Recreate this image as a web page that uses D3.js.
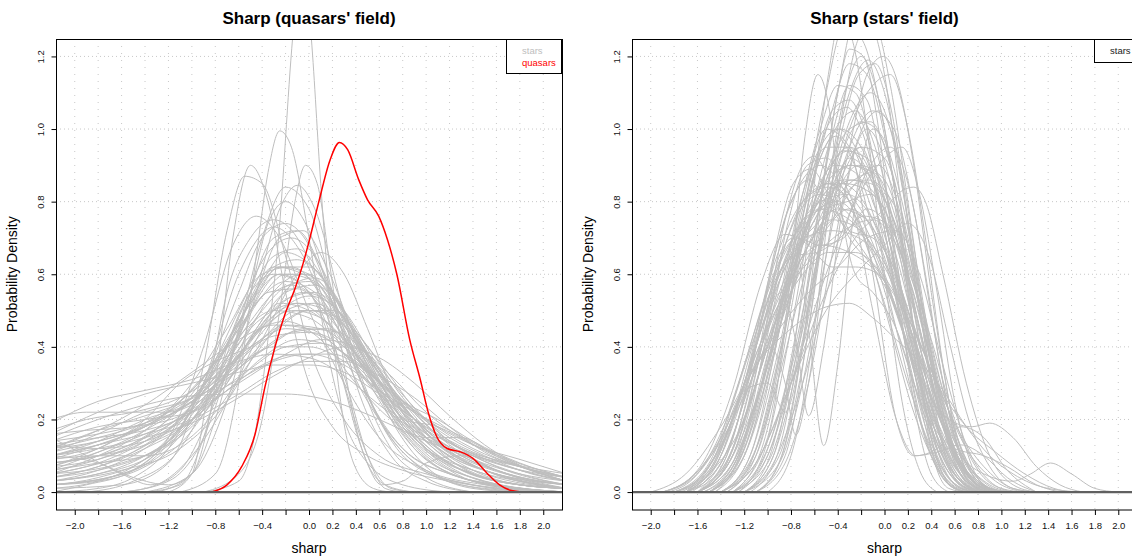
<!DOCTYPE html>
<html><head><meta charset="utf-8">
<script src="https://cdn.jsdelivr.net/npm/d3@7"></script>
<style>
body{margin:0;background:#fff;}
text{font-family:"Liberation Sans",Arial,Helvetica,sans-serif;}
</style></head>
<body><svg id="chart" width="1132" height="560"></svg>
<script>
// ---------- data ----------
const xTicks = [-2.0,-1.8,-1.6,-1.4,-1.2,-1.0,-0.8,-0.6,-0.4,-0.2,0.0,0.2,0.4,0.6,0.8,1.0,1.2,1.4,1.6,1.8,2.0];
const xTickLabels = ["−2.0","","−1.6","","−1.2","","−0.8","","−0.4","","0.0","0.2","0.4","0.6","0.8","1.0","1.2","1.4","1.6","1.8","2.0"];
const yTicks = [0.0,0.2,0.4,0.6,0.8,1.0,1.2];
const yTickLabels = ["0.0","0.2","0.4","0.6","0.8","1.0","1.2"];
const titles = ["Sharp (quasars' field)","Sharp (stars' field)"];
const xTitle = "sharp";
const yTitle = "Probability Density";

// quasar density in the quasars' field ([sharp, density])
const quasarCurve = [[-0.83,0],[-0.7,0.02],[-0.575,0.07],[-0.46,0.16],[-0.376,0.29],[-0.29,0.40],[-0.205,0.49],[-0.12,0.56],[-0.05,0.63],[0.0,0.69],[0.084,0.80],[0.18,0.915],[0.26,0.963],[0.33,0.943],[0.425,0.86],[0.50,0.805],[0.595,0.76],[0.67,0.695],[0.75,0.60],[0.86,0.42],[0.95,0.31],[1.02,0.217],[1.09,0.153],[1.18,0.12],[1.29,0.111],[1.40,0.093],[1.52,0.052],[1.63,0.019],[1.72,0.005],[1.83,0]];

// star densities in the quasars' field ([sharp, density] per curve)
const starsQF = [
[[-2.2,0.19],[-1.8,0.25],[-1.4,0.28],[-1.0,0.31],[-0.6,0.36],[-0.3,0.38],[0,0.37],[0.3,0.32],[0.6,0.24],[1.0,0.15],[1.4,0.09],[1.8,0.05],[2.2,0.03]],
[[-2.2,0.15],[-1.8,0.2],[-1.4,0.24],[-1.0,0.265],[-0.6,0.27],[-0.2,0.27],[0.2,0.25],[0.6,0.2],[1.0,0.14],[1.4,0.1],[1.8,0.07],[2.2,0.04]],
[[-2.2,0.12],[-1.8,0.17],[-1.4,0.24],[-1.0,0.33],[-0.6,0.42],[-0.3,0.46],[0,0.45],[0.3,0.38],[0.6,0.27],[1.0,0.15],[1.4,0.08],[1.8,0.04],[2.2,0.02]],
[[-2.2,0.1],[-1.8,0.13],[-1.4,0.18],[-1.0,0.28],[-0.6,0.45],[-0.35,0.55],[-0.1,0.56],[0.2,0.47],[0.5,0.33],[0.8,0.2],[1.2,0.1],[1.6,0.05],[2.2,0.01]],
[[-2.2,0.06],[-1.8,0.09],[-1.4,0.15],[-1.0,0.27],[-0.6,0.47],[-0.3,0.62],[-0.1,0.64],[0.2,0.55],[0.5,0.37],[0.8,0.2],[1.2,0.08],[1.6,0.03],[2.2,0.01]],
[[-2.2,0.04],[-1.8,0.07],[-1.4,0.13],[-1.0,0.24],[-0.7,0.4],[-0.4,0.58],[-0.2,0.66],[0,0.63],[0.3,0.5],[0.6,0.32],[1.0,0.15],[1.4,0.06],[1.8,0.02],[2.2,0.01]],
[[-2.2,0.13],[-1.8,0.15],[-1.4,0.17],[-1.0,0.22],[-0.6,0.34],[-0.3,0.44],[0,0.5],[0.3,0.47],[0.6,0.36],[0.9,0.23],[1.2,0.14],[1.6,0.08],[2.2,0.04]],
[[-2.2,0.09],[-1.8,0.12],[-1.4,0.2],[-1.1,0.3],[-0.8,0.36],[-0.5,0.4],[-0.2,0.46],[0.1,0.45],[0.4,0.38],[0.7,0.27],[1.0,0.17],[1.4,0.09],[1.8,0.04],[2.2,0.02]],
[[-2.2,0.03],[-1.8,0.05],[-1.4,0.1],[-1.0,0.2],[-0.7,0.35],[-0.45,0.55],[-0.25,0.7],[-0.05,0.72],[0.15,0.62],[0.4,0.42],[0.7,0.22],[1.0,0.1],[1.4,0.04],[1.8,0.01],[2.2,0]],
[[-2.2,0.02],[-1.8,0.03],[-1.4,0.07],[-1.0,0.17],[-0.7,0.34],[-0.5,0.55],[-0.35,0.74],[-0.2,0.8],[0,0.72],[0.2,0.52],[0.45,0.3],[0.8,0.12],[1.2,0.05],[1.6,0.02],[2.2,0]],
[[-1.3,0],[-1.0,0.05],[-0.8,0.3],[-0.65,0.7],[-0.5,0.9],[-0.35,0.8],[-0.2,0.55],[0,0.3],[0.2,0.18],[0.5,0.1],[0.8,0.06],[1.2,0.03],[1.6,0.01],[2.0,0]],
[[-2.2,0.01],[-1.6,0.02],[-1.2,0.08],[-0.9,0.35],[-0.7,0.72],[-0.55,0.87],[-0.4,0.85],[-0.2,0.65],[0.0,0.4],[0.3,0.2],[0.6,0.1],[1.0,0.05],[1.4,0.02],[2.2,0]],
[[-1.1,0],[-0.8,0.05],[-0.6,0.3],[-0.45,0.65],[-0.35,0.88],[-0.25,0.995],[-0.15,0.95],[0,0.7],[0.15,0.4],[0.3,0.2],[0.5,0.08],[0.8,0.02],[1.2,0]],
[[-0.9,0],[-0.6,0.05],[-0.4,0.2],[-0.25,0.5],[-0.12,0.8],[-0.03,0.9],[0.07,0.85],[0.18,0.62],[0.3,0.35],[0.45,0.12],[0.65,0.02],[0.9,0]],
[[-0.9,0],[-0.6,0.03],[-0.45,0.18],[-0.34,0.45],[-0.26,0.7],[-0.14,1.25],[-0.06,1.5],[0.02,1.25],[0.1,0.85],[0.17,0.55],[0.27,0.25],[0.38,0.08],[0.55,0.01],[0.7,0]],
[[-1.4,0],[-1.1,0.02],[-0.9,0.15],[-0.7,0.4],[-0.5,0.55],[-0.3,0.6],[-0.1,0.58],[0.1,0.5],[0.3,0.32],[0.5,0.1],[0.65,0.01],[0.8,0]],
[[-1.2,0],[-1.0,0.05],[-0.85,0.3],[-0.7,0.55],[-0.5,0.7],[-0.3,0.75],[-0.1,0.7],[0.1,0.55],[0.3,0.3],[0.5,0.1],[0.7,0.01],[0.9,0]],
[[-2.2,0.08],[-1.6,0.12],[-1.2,0.2],[-0.8,0.33],[-0.4,0.48],[-0.1,0.52],[0.2,0.45],[0.5,0.3],[0.8,0.2],[1.1,0.18],[1.4,0.13],[1.8,0.07],[2.2,0.03]],
[[-2.2,0.1],[-1.8,0.14],[-1.4,0.2],[-1.0,0.25],[-0.6,0.38],[-0.3,0.5],[-0.05,0.55],[0.25,0.5],[0.55,0.35],[0.9,0.2],[1.3,0.12],[1.7,0.08],[2.2,0.05]],
[[-2.2,0.05],[-1.8,0.1],[-1.4,0.17],[-1.0,0.3],[-0.7,0.45],[-0.4,0.6],[-0.15,0.62],[0.1,0.55],[0.4,0.38],[0.7,0.22],[1.0,0.12],[1.4,0.06],[1.8,0.03],[2.2,0.01]],
[[-2.2,0.02],[-1.6,0.05],[-1.2,0.15],[-0.9,0.4],[-0.65,0.68],[-0.45,0.76],[-0.25,0.7],[0,0.5],[0.3,0.3],[0.6,0.15],[1.0,0.06],[1.5,0.02],[2.2,0]],
[[-1.6,0],[-1.2,0.03],[-0.9,0.15],[-0.6,0.45],[-0.4,0.7],[-0.2,0.84],[0,0.78],[0.2,0.55],[0.4,0.3],[0.7,0.1],[1.0,0.03],[1.4,0]],
[[-1.4,0],[-1.0,0.05],[-0.7,0.25],[-0.45,0.55],[-0.25,0.78],[-0.1,0.845],[0.05,0.78],[0.25,0.55],[0.45,0.3],[0.7,0.12],[1.0,0.04],[1.4,0]],
[[-2.2,0.02],[-1.7,0.04],[-1.3,0.1],[-0.9,0.3],[-0.6,0.6],[-0.3,0.73],[-0.05,0.65],[0.2,0.45],[0.5,0.25],[0.8,0.12],[1.2,0.05],[1.6,0.02],[2.2,0]],
[[-2.2,0.03],[-1.6,0.06],[-1.1,0.12],[-0.7,0.25],[-0.4,0.42],[-0.1,0.6],[0.1,0.66],[0.3,0.6],[0.5,0.45],[0.75,0.25],[1.0,0.12],[1.4,0.05],[1.8,0.02],[2.2,0.01]],
[[-2.2,0.16],[-1.8,0.22],[-1.4,0.27],[-1.0,0.3],[-0.6,0.33],[-0.3,0.35],[0,0.35],[0.3,0.33],[0.6,0.27],[1.0,0.18],[1.4,0.11],[1.8,0.07],[2.2,0.04]],
[[-2.2,0.07],[-1.8,0.11],[-1.4,0.16],[-1.0,0.22],[-0.6,0.3],[-0.2,0.38],[0.1,0.42],[0.4,0.4],[0.7,0.32],[1.0,0.22],[1.3,0.15],[1.7,0.09],[2.2,0.04]],
[[-2.2,0.0],[-1.9,0.02],[-1.5,0.06],[-1.1,0.18],[-0.8,0.35],[-0.5,0.52],[-0.25,0.6],[0,0.6],[0.25,0.5],[0.5,0.35],[0.8,0.18],[1.2,0.07],[1.6,0.02],[2.2,0]],
[[-2.2,0.11],[-1.8,0.16],[-1.4,0.22],[-1.0,0.26],[-0.7,0.33],[-0.4,0.42],[-0.1,0.5],[0.2,0.5],[0.5,0.4],[0.8,0.26],[1.2,0.13],[1.6,0.06],[2.2,0.02]],
[[-2.2,0.14],[-1.8,0.18],[-1.4,0.2],[-1.0,0.22],[-0.7,0.28],[-0.4,0.37],[-0.1,0.42],[0.2,0.4],[0.5,0.33],[0.8,0.25],[1.1,0.2],[1.4,0.14],[1.8,0.08],[2.2,0.04]],
[[-2.2,0.04],[-1.8,0.07],[-1.4,0.12],[-1.0,0.2],[-0.7,0.32],[-0.45,0.45],[-0.2,0.55],[0.05,0.57],[0.3,0.5],[0.6,0.34],[0.9,0.2],[1.3,0.09],[1.7,0.04],[2.2,0.01]],
[[-2.2,0.08],[-1.8,0.1],[-1.4,0.13],[-1.0,0.2],[-0.7,0.3],[-0.45,0.45],[-0.25,0.52],[0,0.5],[0.3,0.42],[0.6,0.3],[0.9,0.18],[1.2,0.1],[1.6,0.05],[2.2,0.02]],
[[-1.6,0],[-1.3,0.02],[-1.0,0.1],[-0.7,0.25],[-0.4,0.45],[-0.15,0.57],[0.05,0.59],[0.25,0.53],[0.45,0.38],[0.7,0.2],[1.0,0.07],[1.4,0.01],[1.8,0]],
[[-2.2,0.12],[-1.8,0.14],[-1.5,0.17],[-1.2,0.22],[-0.9,0.32],[-0.6,0.43],[-0.3,0.5],[0,0.48],[0.3,0.4],[0.6,0.3],[0.9,0.22],[1.2,0.15],[1.5,0.1],[1.9,0.05],[2.2,0.03]],
[[-2.2,0.06],[-1.8,0.08],[-1.4,0.1],[-1.1,0.16],[-0.8,0.28],[-0.5,0.42],[-0.25,0.5],[0,0.54],[0.25,0.5],[0.5,0.38],[0.8,0.22],[1.1,0.11],[1.5,0.05],[2.2,0.01]],
[[-2.2,0.17],[-1.9,0.2],[-1.5,0.22],[-1.1,0.26],[-0.8,0.32],[-0.5,0.4],[-0.2,0.45],[0.1,0.43],[0.4,0.35],[0.7,0.25],[1.0,0.16],[1.4,0.1],[1.8,0.06],[2.2,0.03]],
[[-2.2,0.01],[-1.8,0.03],[-1.5,0.07],[-1.2,0.15],[-0.9,0.3],[-0.6,0.5],[-0.35,0.66],[-0.15,0.7],[0.05,0.65],[0.3,0.48],[0.6,0.27],[0.9,0.12],[1.3,0.04],[1.8,0.01],[2.2,0]],
[[-2.2,0.05],[-1.6,0.08],[-1.2,0.14],[-0.8,0.3],[-0.5,0.43],[-0.2,0.47],[0.1,0.42],[0.4,0.3],[0.7,0.2],[1.0,0.15],[1.3,0.15],[1.6,0.1],[1.9,0.06],[2.2,0.03]],
[[-2.2,0.2],[-1.9,0.22],[-1.5,0.22],[-1.2,0.22],[-0.9,0.27],[-0.6,0.35],[-0.3,0.4],[0,0.4],[0.3,0.36],[0.6,0.28],[0.9,0.2],[1.3,0.12],[1.7,0.07],[2.2,0.03]],
[[-2.2,0.09],[-1.8,0.1],[-1.4,0.1],[-1.1,0.13],[-0.8,0.22],[-0.5,0.36],[-0.25,0.46],[0,0.5],[0.25,0.47],[0.5,0.38],[0.8,0.24],[1.1,0.13],[1.5,0.06],[2.2,0.01]],
[[-2.2,0.1],[-1.8,0.08],[-1.5,0.04],[-1.2,0.02],[-1.0,0.05],[-0.8,0.2],[-0.55,0.5],[-0.3,0.7],[-0.1,0.72],[0.1,0.62],[0.35,0.4],[0.6,0.2],[0.9,0.08],[1.3,0.02],[1.8,0]],
[[-2.2,0.15],[-1.9,0.1],[-1.6,0.05],[-1.35,0.02],[-1.1,0.06],[-0.8,0.25],[-0.5,0.5],[-0.25,0.62],[0,0.6],[0.25,0.48],[0.55,0.28],[0.9,0.12],[1.3,0.04],[1.8,0.01],[2.2,0]],
[[-2.2,0.02],[-1.6,0.05],[-1.2,0.12],[-0.8,0.3],[-0.5,0.5],[-0.25,0.6],[0,0.55],[0.25,0.35],[0.45,0.12],[0.62,0.02],[0.8,0.03],[1.0,0.08],[1.3,0.1],[1.6,0.06],[2.0,0.02],[2.2,0.01]],
[[-2.2,0.13],[-1.8,0.12],[-1.4,0.14],[-1.0,0.2],[-0.7,0.28],[-0.4,0.35],[-0.1,0.38],[0.2,0.38],[0.5,0.33],[0.8,0.25],[1.1,0.18],[1.4,0.13],[1.8,0.09],[2.2,0.05]],
[[-2.2,0.07],[-1.8,0.12],[-1.4,0.19],[-1.0,0.28],[-0.7,0.4],[-0.45,0.52],[-0.2,0.58],[0.05,0.55],[0.3,0.44],[0.6,0.28],[0.9,0.15],[1.3,0.06],[1.8,0.02],[2.2,0.01]],
[[-2.2,0.0],[-1.8,0.01],[-1.5,0.04],[-1.2,0.12],[-0.9,0.3],[-0.6,0.55],[-0.4,0.7],[-0.2,0.74],[0,0.68],[0.2,0.52],[0.45,0.3],[0.75,0.12],[1.1,0.04],[1.5,0.01],[2.0,0]],
[[-2.2,0.1],[-1.8,0.13],[-1.4,0.16],[-1.0,0.2],[-0.6,0.27],[-0.3,0.33],[0,0.36],[0.3,0.36],[0.6,0.32],[0.9,0.26],[1.2,0.18],[1.5,0.11],[1.9,0.06],[2.2,0.03]],
[[-1.9,0],[-1.5,0.03],[-1.1,0.12],[-0.8,0.3],[-0.55,0.5],[-0.3,0.62],[-0.05,0.6],[0.2,0.48],[0.45,0.3],[0.7,0.15],[1.0,0.06],[1.4,0.02],[1.9,0]],
[[-2.2,0.12],[-1.8,0.15],[-1.4,0.19],[-1.0,0.26],[-0.6,0.37],[-0.3,0.43],[0,0.44],[0.3,0.4],[0.6,0.3],[0.9,0.2],[1.3,0.1],[1.7,0.05],[2.2,0.02]],
[[-2.2,0.05],[-1.8,0.08],[-1.4,0.14],[-1.0,0.24],[-0.7,0.36],[-0.4,0.5],[-0.15,0.57],[0.1,0.52],[0.35,0.4],[0.65,0.25],[1.0,0.12],[1.4,0.05],[1.8,0.02],[2.2,0.01]],
[[-2.2,0.08],[-1.8,0.1],[-1.4,0.15],[-1.0,0.23],[-0.65,0.35],[-0.35,0.47],[-0.1,0.52],[0.15,0.5],[0.45,0.4],[0.75,0.27],[1.1,0.14],[1.5,0.06],[2.2,0.01]],
[[-2.2,0.03],[-1.8,0.06],[-1.4,0.12],[-1.05,0.22],[-0.75,0.38],[-0.5,0.52],[-0.25,0.62],[0,0.62],[0.25,0.52],[0.5,0.36],[0.8,0.18],[1.2,0.06],[1.7,0.01],[2.2,0]],
[[-2.2,0.11],[-1.8,0.14],[-1.4,0.18],[-1.0,0.25],[-0.65,0.33],[-0.35,0.4],[-0.05,0.45],[0.25,0.44],[0.55,0.36],[0.85,0.25],[1.2,0.14],[1.6,0.07],[2.2,0.02]],
[[-2.2,0.06],[-1.8,0.11],[-1.4,0.17],[-1.0,0.26],[-0.7,0.38],[-0.4,0.54],[-0.2,0.6],[0.05,0.58],[0.3,0.46],[0.6,0.3],[0.9,0.17],[1.3,0.07],[1.8,0.02],[2.2,0.01]],
[[-2.2,0.14],[-1.8,0.16],[-1.4,0.19],[-1.0,0.24],[-0.6,0.31],[-0.3,0.36],[0,0.38],[0.3,0.35],[0.6,0.28],[0.9,0.22],[1.2,0.17],[1.5,0.12],[1.9,0.06],[2.2,0.04]],
[[-2.2,0.02],[-1.8,0.04],[-1.4,0.09],[-1.05,0.2],[-0.75,0.37],[-0.5,0.55],[-0.3,0.65],[-0.1,0.67],[0.1,0.6],[0.35,0.43],[0.65,0.24],[0.95,0.11],[1.4,0.03],[2.2,0]],
[[-2.2,0.09],[-1.8,0.13],[-1.4,0.18],[-1.0,0.25],[-0.7,0.34],[-0.4,0.45],[-0.15,0.5],[0.1,0.48],[0.4,0.38],[0.7,0.26],[1.0,0.16],[1.3,0.1],[1.7,0.05],[2.2,0.02]],
[[-2.2,0.04],[-1.8,0.06],[-1.4,0.1],[-1.0,0.18],[-0.7,0.3],[-0.45,0.42],[-0.2,0.5],[0.05,0.52],[0.3,0.46],[0.55,0.35],[0.85,0.22],[1.15,0.12],[1.5,0.06],[1.9,0.03],[2.2,0.01]],
[[-2.2,0.16],[-1.9,0.17],[-1.5,0.18],[-1.1,0.21],[-0.8,0.27],[-0.5,0.34],[-0.2,0.4],[0.1,0.41],[0.4,0.36],[0.7,0.28],[1.0,0.2],[1.4,0.12],[1.8,0.07],[2.2,0.04]],
[[-2.2,0.07],[-1.8,0.09],[-1.4,0.14],[-1.0,0.22],[-0.7,0.33],[-0.45,0.44],[-0.2,0.53],[0.05,0.55],[0.3,0.48],[0.55,0.36],[0.85,0.21],[1.2,0.09],[1.6,0.03],[2.2,0.01]],
[[-2.2,0.1],[-1.8,0.12],[-1.4,0.15],[-1.0,0.19],[-0.6,0.26],[-0.3,0.32],[0,0.37],[0.3,0.4],[0.6,0.37],[0.9,0.3],[1.2,0.21],[1.5,0.13],[1.9,0.06],[2.2,0.03]],
[[-2.2,0.03],[-1.8,0.05],[-1.4,0.09],[-1.05,0.17],[-0.75,0.3],[-0.5,0.45],[-0.28,0.56],[-0.05,0.6],[0.2,0.54],[0.45,0.4],[0.75,0.22],[1.05,0.1],[1.5,0.03],[2.2,0]],
[[-2.2,0.12],[-1.8,0.17],[-1.4,0.21],[-1.05,0.25],[-0.75,0.3],[-0.45,0.38],[-0.15,0.44],[0.15,0.45],[0.45,0.38],[0.75,0.27],[1.05,0.17],[1.4,0.1],[1.8,0.05],[2.2,0.02]],
[[-2.2,0.05],[-1.9,0.07],[-1.5,0.11],[-1.1,0.2],[-0.8,0.32],[-0.5,0.47],[-0.25,0.56],[0,0.58],[0.25,0.5],[0.5,0.36],[0.8,0.2],[1.1,0.1],[1.5,0.04],[2.2,0.01]]
];

// star densities in the stars' field ([sharp, density] per curve)
const starsSF = [
[[-1.3,0],[-1.0,0.15],[-0.8,0.6],[-0.68,0.98],[-0.57,1.15],[-0.47,1.05],[-0.38,0.8],[-0.25,0.6],[-0.1,0.55],[0.1,0.45],[0.3,0.25],[0.5,0.08],[0.7,0.01],[0.9,0]],
[[-1.4,0],[-1.1,0.1],[-0.9,0.35],[-0.7,0.75],[-0.5,1.1],[-0.35,1.28],[-0.2,1.25],[0,1.0],[0.2,0.6],[0.4,0.25],[0.6,0.06],[0.8,0]],
[[-1.3,0],[-1.0,0.08],[-0.8,0.3],[-0.6,0.7],[-0.4,1.1],[-0.25,1.3],[-0.1,1.3],[0.05,1.12],[0.2,0.8],[0.4,0.35],[0.6,0.08],[0.8,0]],
[[-1.2,0],[-0.9,0.08],[-0.7,0.3],[-0.5,0.65],[-0.3,0.95],[-0.15,1.15],[-0.01,1.2],[0.12,1.12],[0.25,0.9],[0.4,0.55],[0.6,0.18],[0.8,0.03],[1.0,0]],
[[-1.5,0],[-1.2,0.1],[-1.0,0.3],[-0.8,0.6],[-0.6,0.9],[-0.45,1.03],[-0.32,1.06],[-0.2,1.0],[0,0.75],[0.2,0.45],[0.4,0.2],[0.6,0.05],[0.8,0]],
[[-1.2,0],[-0.9,0.1],[-0.65,0.5],[-0.45,0.9],[-0.3,1.1],[-0.14,1.19],[0,1.1],[0.15,0.85],[0.3,0.5],[0.5,0.18],[0.7,0.03],[0.9,0]],
[[-1.4,0],[-1.1,0.08],[-0.8,0.3],[-0.5,0.55],[-0.25,0.7],[0,0.78],[0.15,0.83],[0.25,0.84],[0.35,0.8],[0.5,0.6],[0.7,0.3],[0.9,0.1],[1.1,0.02],[1.3,0]],
[[-1.6,0],[-1.35,0.1],[-1.15,0.3],[-0.98,0.4],[-0.85,0.3],[-0.76,0.157],[-0.65,0.3],[-0.5,0.65],[-0.35,0.9],[-0.2,0.95],[-0.05,0.8],[0.15,0.45],[0.35,0.15],[0.55,0.02],[0.7,0]],
[[-1.6,0],[-1.35,0.08],[-1.1,0.35],[-0.9,0.65],[-0.78,0.7],[-0.65,0.45],[-0.52,0.128],[-0.4,0.35],[-0.25,0.8],[-0.1,1.0],[0.05,0.9],[0.2,0.55],[0.4,0.15],[0.6,0.01],[0.75,0]],
[[-1.7,0],[-1.45,0.1],[-1.2,0.28],[-1.0,0.3],[-0.85,0.22],[-0.7,0.4],[-0.5,0.75],[-0.3,0.92],[-0.1,0.85],[0.1,0.55],[0.3,0.2],[0.5,0.04],[0.7,0]],
[[-1.6,0],[-1.3,0.15],[-1.05,0.45],[-0.88,0.55],[-0.75,0.4],[-0.65,0.21],[-0.52,0.4],[-0.35,0.8],[-0.15,1.0],[0.05,0.85],[0.25,0.45],[0.45,0.12],[0.65,0.01],[0.8,0]],
[[-1.6,0],[-1.3,0.1],[-1.05,0.4],[-0.85,0.75],[-0.7,0.9],[-0.6,0.925],[-0.5,0.88],[-0.35,0.75],[-0.15,0.65],[0.05,0.55],[0.25,0.35],[0.45,0.12],[0.65,0.02],[0.85,0]],
[[-1.7,0],[-1.4,0.08],[-1.15,0.32],[-0.95,0.65],[-0.78,0.85],[-0.63,0.89],[-0.48,0.82],[-0.3,0.7],[-0.1,0.62],[0.1,0.5],[0.3,0.28],[0.5,0.1],[0.7,0.02],[0.9,0]],
[[-1.8,0],[-1.5,0.07],[-1.2,0.3],[-0.98,0.6],[-0.8,0.8],[-0.65,0.86],[-0.5,0.8],[-0.3,0.72],[-0.1,0.7],[0.1,0.6],[0.3,0.38],[0.5,0.15],[0.7,0.03],[0.9,0]],
[[-2.0,0],[-1.7,0.05],[-1.4,0.18],[-1.1,0.35],[-0.8,0.45],[-0.5,0.51],[-0.3,0.52],[-0.1,0.48],[0.1,0.42],[0.3,0.36],[0.5,0.28],[0.7,0.18],[0.9,0.1],[1.1,0.05],[1.4,0.01],[1.7,0]],
[[-1.9,0],[-1.6,0.06],[-1.3,0.28],[-1.05,0.58],[-0.85,0.71],[-0.65,0.68],[-0.45,0.62],[-0.25,0.62],[-0.05,0.6],[0.15,0.45],[0.35,0.22],[0.55,0.07],[0.75,0.01],[0.95,0]],
[[-1.8,0],[-1.5,0.06],[-1.25,0.25],[-1.0,0.5],[-0.8,0.65],[-0.55,0.75],[-0.3,0.85],[-0.1,0.88],[0.1,0.75],[0.3,0.45],[0.5,0.18],[0.7,0.04],[0.9,0]],
[[-1.7,0],[-1.4,0.08],[-1.15,0.3],[-0.9,0.55],[-0.65,0.72],[-0.4,0.85],[-0.2,0.95],[0,0.92],[0.2,0.7],[0.4,0.38],[0.6,0.12],[0.8,0.02],[1.0,0]],
[[-1.6,0],[-1.3,0.1],[-1.05,0.35],[-0.8,0.6],[-0.55,0.78],[-0.3,0.9],[-0.1,0.88],[0.1,0.7],[0.3,0.45],[0.5,0.2],[0.7,0.06],[0.9,0.01],[1.1,0]],
[[-1.8,0],[-1.5,0.05],[-1.2,0.2],[-0.95,0.45],[-0.7,0.65],[-0.45,0.75],[-0.2,0.72],[0.05,0.55],[0.3,0.32],[0.55,0.2],[0.75,0.18],[0.9,0.19],[1.1,0.15],[1.3,0.07],[1.5,0.02],[1.7,0]],
[[-1.7,0],[-1.4,0.06],[-1.15,0.25],[-0.9,0.5],[-0.65,0.68],[-0.4,0.78],[-0.15,0.75],[0.1,0.55],[0.35,0.3],[0.6,0.12],[0.85,0.05],[1.1,0.03],[1.25,0.05],[1.42,0.08],[1.6,0.05],[1.8,0.01],[2.0,0]],
[[-1.5,0],[-1.2,0.1],[-0.95,0.4],[-0.7,0.8],[-0.5,1.0],[-0.3,0.95],[-0.1,0.6],[0.1,0.2],[0.25,0.1],[0.45,0.11],[0.65,0.13],[0.85,0.1],[1.05,0.04],[1.3,0]],
[[-1.4,0],[-1.15,0.1],[-0.9,0.4],[-0.7,0.7],[-0.5,0.85],[-0.3,0.8],[-0.1,0.5],[0.1,0.2],[0.27,0.1],[0.45,0.12],[0.65,0.18],[0.85,0.15],[1.05,0.06],[1.3,0]],
[[-1.6,0],[-1.3,0.08],[-1.0,0.35],[-0.75,0.65],[-0.5,0.88],[-0.3,1.0],[-0.12,1.02],[0.05,0.9],[0.25,0.6],[0.45,0.28],[0.65,0.08],[0.85,0]],
[[-1.5,0],[-1.25,0.1],[-1.0,0.38],[-0.75,0.7],[-0.55,0.92],[-0.38,1.0],[-0.2,0.95],[0,0.75],[0.2,0.45],[0.4,0.18],[0.6,0.04],[0.8,0]],
[[-1.7,0],[-1.4,0.1],[-1.15,0.32],[-0.9,0.52],[-0.65,0.68],[-0.4,0.8],[-0.15,0.86],[0.1,0.78],[0.3,0.55],[0.5,0.28],[0.7,0.09],[0.9,0.01],[1.1,0]],
[[-1.6,0],[-1.35,0.07],[-1.1,0.25],[-0.85,0.5],[-0.6,0.72],[-0.35,0.85],[-0.1,0.82],[0.1,0.65],[0.3,0.4],[0.5,0.18],[0.7,0.05],[0.9,0]],
[[-1.1,0],[-0.85,0.08],[-0.65,0.3],[-0.45,0.65],[-0.25,0.95],[-0.05,1.05],[0.12,0.92],[0.28,0.62],[0.45,0.3],[0.6,0.1],[0.75,0.02],[0.9,0]],
[[-1.2,0],[-0.95,0.08],[-0.7,0.3],[-0.45,0.6],[-0.2,0.85],[0.05,0.95],[0.2,0.85],[0.35,0.6],[0.5,0.3],[0.65,0.1],[0.8,0.02],[0.95,0]],
[[-1.8,0],[-1.5,0.08],[-1.25,0.3],[-1.0,0.55],[-0.78,0.7],[-0.55,0.78],[-0.3,0.75],[-0.05,0.62],[0.2,0.4],[0.45,0.18],[0.7,0.05],[0.9,0]],
[[-1.5,0],[-1.2,0.12],[-0.95,0.45],[-0.72,0.8],[-0.55,0.95],[-0.4,1.0],[-0.25,0.95],[-0.05,0.75],[0.15,0.45],[0.35,0.18],[0.55,0.04],[0.75,0]],
[[-1.9,0],[-1.6,0.05],[-1.35,0.18],[-1.1,0.38],[-0.85,0.55],[-0.6,0.65],[-0.35,0.72],[-0.1,0.75],[0.15,0.65],[0.4,0.42],[0.6,0.2],[0.8,0.06],[1.0,0.01],[1.2,0]],
[[-1.6,0],[-1.3,0.12],[-1.05,0.42],[-0.85,0.62],[-0.65,0.7],[-0.45,0.75],[-0.25,0.85],[-0.05,0.9],[0.15,0.75],[0.35,0.42],[0.55,0.14],[0.75,0.02],[0.9,0]],
[[-1.3,0],[-1.0,0.1],[-0.75,0.35],[-0.5,0.6],[-0.25,0.8],[0,0.92],[0.15,0.95],[0.3,0.82],[0.45,0.55],[0.6,0.25],[0.75,0.07],[0.9,0.01],[1.05,0]],
[[-1.4,0],[-1.15,0.1],[-0.9,0.45],[-0.7,0.78],[-0.5,0.95],[-0.3,0.95],[-0.1,0.8],[0.1,0.6],[0.3,0.35],[0.5,0.14],[0.7,0.03],[0.9,0]],
[[-1.7,0],[-1.45,0.1],[-1.2,0.35],[-0.95,0.6],[-0.75,0.7],[-0.55,0.68],[-0.35,0.7],[-0.15,0.78],[0.05,0.72],[0.25,0.5],[0.45,0.25],[0.65,0.08],[0.85,0.01],[1.0,0]],
[[-1.6,0],[-1.3,0.08],[-1.05,0.3],[-0.8,0.55],[-0.55,0.7],[-0.3,0.78],[-0.05,0.7],[0.2,0.5],[0.45,0.3],[0.7,0.18],[0.95,0.11],[1.2,0.05],[1.45,0.01],[1.6,0]],
[[-1.5,0],[-1.25,0.1],[-1.0,0.35],[-0.8,0.62],[-0.6,0.82],[-0.42,0.9],[-0.25,0.88],[-0.05,0.72],[0.15,0.5],[0.35,0.28],[0.6,0.1],[0.85,0.02],[1.0,0]],
[[-1.2,0],[-0.95,0.1],[-0.75,0.45],[-0.6,0.85],[-0.48,1.15],[-0.38,1.3],[-0.28,1.25],[-0.15,1.0],[0.0,0.6],[0.15,0.25],[0.3,0.06],[0.45,0]],
[[-1.3,0],[-1.0,0.12],[-0.75,0.4],[-0.5,0.75],[-0.3,1.0],[-0.1,1.12],[0.05,1.15],[0.2,1.0],[0.35,0.7],[0.5,0.35],[0.65,0.1],[0.8,0.02],[0.95,0]],
[[-1.8,0],[-1.55,0.05],[-1.3,0.2],[-1.05,0.42],[-0.8,0.6],[-0.55,0.68],[-0.3,0.66],[-0.05,0.6],[0.2,0.48],[0.45,0.3],[0.7,0.12],[0.95,0.03],[1.2,0]],
[[-1.1,0],[-0.85,0.1],[-0.65,0.45],[-0.48,0.85],[-0.32,1.12],[-0.2,1.2],[-0.08,1.12],[0.08,0.85],[0.25,0.45],[0.42,0.12],[0.6,0.01],[0.75,0]],
[[-1.4,0],[-1.1,0.08],[-0.8,0.3],[-0.5,0.5],[-0.25,0.6],[0,0.68],[0.2,0.74],[0.38,0.65],[0.55,0.42],[0.72,0.2],[0.9,0.07],[1.1,0.01],[1.3,0]],
[[-1.7,0],[-1.4,0.1],[-1.15,0.35],[-0.9,0.6],[-0.65,0.75],[-0.4,0.8],[-0.15,0.7],[0.1,0.45],[0.35,0.22],[0.6,0.12],[0.85,0.1],[1.05,0.07],[1.3,0.02],[1.5,0]],
[[-1.9,0],[-1.65,0.04],[-1.4,0.15],[-1.15,0.32],[-0.9,0.45],[-0.65,0.55],[-0.4,0.62],[-0.15,0.7],[0.1,0.72],[0.3,0.6],[0.5,0.35],[0.7,0.13],[0.9,0.03],[1.1,0]],
[[-1.5,0],[-1.2,0.12],[-0.95,0.42],[-0.75,0.75],[-0.55,1.0],[-0.4,1.12],[-0.25,1.1],[-0.05,0.85],[0.15,0.5],[0.35,0.2],[0.55,0.04],[0.75,0]],
[[-1.4,0],[-1.1,0.12],[-0.85,0.45],[-0.65,0.8],[-0.45,1.05],[-0.3,1.18],[-0.15,1.15],[0.05,0.9],[0.25,0.5],[0.45,0.18],[0.65,0.03],[0.85,0]],
[[-1.6,0],[-1.3,0.1],[-1.05,0.4],[-0.85,0.68],[-0.65,0.82],[-0.45,0.85],[-0.25,0.8],[-0.05,0.68],[0.15,0.48],[0.35,0.26],[0.55,0.1],[0.75,0.02],[0.9,0]],
[[-1.7,0],[-1.45,0.08],[-1.2,0.3],[-0.95,0.58],[-0.75,0.76],[-0.55,0.82],[-0.35,0.78],[-0.15,0.7],[0.05,0.6],[0.25,0.42],[0.45,0.22],[0.65,0.07],[0.85,0.01],[1.0,0]],
[[-1.3,0],[-1.05,0.12],[-0.8,0.5],[-0.6,0.88],[-0.45,1.05],[-0.3,1.08],[-0.15,0.98],[0.05,0.72],[0.25,0.38],[0.45,0.12],[0.65,0.02],[0.8,0]],
[[-1.2,0],[-0.95,0.1],[-0.7,0.42],[-0.5,0.78],[-0.3,1.02],[-0.12,1.1],[0.05,1.0],[0.2,0.75],[0.38,0.4],[0.55,0.14],[0.72,0.02],[0.9,0]],
[[-1.5,0],[-1.25,0.08],[-1.0,0.32],[-0.78,0.6],[-0.55,0.82],[-0.35,0.94],[-0.15,0.92],[0.05,0.78],[0.25,0.52],[0.45,0.25],[0.65,0.07],[0.85,0]],
[[-1.65,0],[-1.4,0.1],[-1.15,0.38],[-0.92,0.65],[-0.7,0.8],[-0.48,0.84],[-0.25,0.78],[-0.02,0.62],[0.2,0.4],[0.42,0.18],[0.62,0.05],[0.8,0]],
[[-1.0,0],[-0.8,0.1],[-0.6,0.45],[-0.45,0.85],[-0.32,1.12],[-0.22,1.25],[-0.12,1.28],[0.0,1.15],[0.12,0.85],[0.25,0.45],[0.4,0.12],[0.55,0.01],[0.7,0]],
[[-1.1,0],[-0.88,0.1],[-0.68,0.45],[-0.52,0.85],[-0.4,1.1],[-0.3,1.22],[-0.18,1.2],[-0.05,1.0],[0.1,0.6],[0.25,0.25],[0.4,0.05],[0.55,0]],
[[-1.25,0],[-1.0,0.1],[-0.75,0.38],[-0.52,0.7],[-0.3,0.95],[-0.1,1.05],[0.08,1.0],[0.25,0.78],[0.42,0.45],[0.6,0.15],[0.78,0.02],[0.95,0]],
[[-1.75,0],[-1.5,0.06],[-1.25,0.25],[-1.0,0.5],[-0.78,0.7],[-0.55,0.8],[-0.32,0.82],[-0.1,0.75],[0.12,0.58],[0.35,0.35],[0.55,0.15],[0.75,0.04],[0.95,0]],
[[-1.55,0],[-1.3,0.07],[-1.05,0.3],[-0.82,0.58],[-0.6,0.78],[-0.38,0.85],[-0.18,0.8],[0.02,0.65],[0.22,0.45],[0.42,0.25],[0.62,0.1],[0.82,0.02],[1.0,0]],
[[-1.4,0],[-1.15,0.08],[-0.9,0.32],[-0.68,0.6],[-0.45,0.8],[-0.22,0.9],[0,0.86],[0.2,0.65],[0.4,0.35],[0.6,0.12],[0.8,0.02],[0.95,0]],
[[-1.85,0],[-1.6,0.05],[-1.35,0.2],[-1.12,0.42],[-0.9,0.6],[-0.68,0.7],[-0.45,0.72],[-0.22,0.7],[0,0.62],[0.22,0.45],[0.45,0.25],[0.68,0.09],[0.9,0.02],[1.1,0]],
[[-1.2,0],[-0.98,0.1],[-0.78,0.4],[-0.6,0.72],[-0.45,0.9],[-0.3,0.95],[-0.12,0.88],[0.05,0.68],[0.25,0.4],[0.45,0.15],[0.65,0.03],[0.8,0]],
[[-1.45,0],[-1.2,0.1],[-0.95,0.38],[-0.72,0.68],[-0.5,0.85],[-0.28,0.9],[-0.05,0.84],[0.15,0.68],[0.35,0.45],[0.55,0.2],[0.75,0.05],[0.95,0]],
[[-1.6,0],[-1.35,0.1],[-1.1,0.4],[-0.9,0.7],[-0.72,0.85],[-0.55,0.9],[-0.38,0.85],[-0.2,0.72],[0,0.52],[0.2,0.3],[0.4,0.12],[0.6,0.02],[0.75,0]],
[[-1.3,0],[-1.05,0.08],[-0.8,0.35],[-0.58,0.68],[-0.38,0.92],[-0.2,1.02],[-0.02,0.98],[0.15,0.8],[0.32,0.52],[0.5,0.22],[0.68,0.05],[0.85,0]],
[[-1.5,0],[-1.25,0.09],[-1.0,0.36],[-0.78,0.64],[-0.56,0.8],[-0.34,0.86],[-0.12,0.85],[0.08,0.75],[0.28,0.55],[0.48,0.3],[0.68,0.1],[0.88,0.02],[1.05,0]],
[[-1.35,0],[-1.1,0.1],[-0.88,0.4],[-0.7,0.72],[-0.55,0.92],[-0.42,0.98],[-0.28,0.92],[-0.1,0.72],[0.1,0.45],[0.3,0.2],[0.5,0.05],[0.7,0]],
[[-1.7,0],[-1.45,0.08],[-1.2,0.3],[-0.98,0.55],[-0.78,0.65],[-0.58,0.66],[-0.38,0.7],[-0.18,0.76],[0.02,0.74],[0.22,0.58],[0.42,0.34],[0.62,0.13],[0.82,0.03],[1.0,0]],
[[-1.15,0],[-0.92,0.1],[-0.72,0.42],[-0.55,0.8],[-0.42,1.02],[-0.3,1.12],[-0.15,1.08],[0.0,0.85],[0.18,0.48],[0.35,0.18],[0.52,0.03],[0.68,0]],
[[-1.25,0],[-1.02,0.12],[-0.8,0.45],[-0.6,0.8],[-0.42,1.0],[-0.25,1.05],[-0.08,0.95],[0.1,0.7],[0.28,0.4],[0.45,0.15],[0.62,0.03],[0.8,0]],
[[-1.55,0],[-1.3,0.08],[-1.08,0.32],[-0.88,0.6],[-0.7,0.75],[-0.52,0.78],[-0.32,0.8],[-0.12,0.82],[0.08,0.72],[0.28,0.48],[0.48,0.22],[0.68,0.06],[0.88,0]],
[[-1.9,0],[-1.65,0.04],[-1.4,0.14],[-1.15,0.3],[-0.92,0.48],[-0.7,0.6],[-0.48,0.66],[-0.25,0.66],[-0.02,0.6],[0.2,0.48],[0.42,0.32],[0.65,0.16],[0.88,0.06],[1.1,0.01],[1.3,0]],
[[-1.45,0],[-1.22,0.12],[-1.0,0.45],[-0.82,0.75],[-0.66,0.9],[-0.5,0.92],[-0.34,0.85],[-0.15,0.68],[0.05,0.45],[0.25,0.22],[0.45,0.07],[0.65,0]],
[[-1.1,0],[-0.9,0.08],[-0.7,0.35],[-0.52,0.72],[-0.36,1.0],[-0.22,1.15],[-0.08,1.18],[0.06,1.05],[0.2,0.75],[0.36,0.38],[0.52,0.1],[0.68,0.01],[0.8,0]],
[[-1.35,0],[-1.12,0.1],[-0.9,0.38],[-0.7,0.68],[-0.5,0.88],[-0.3,0.94],[-0.1,0.85],[0.1,0.62],[0.3,0.35],[0.5,0.13],[0.7,0.03],[0.88,0]],
[[-1.6,0],[-1.38,0.06],[-1.15,0.25],[-0.92,0.5],[-0.7,0.7],[-0.48,0.82],[-0.26,0.86],[-0.04,0.8],[0.18,0.62],[0.4,0.36],[0.6,0.14],[0.8,0.03],[1.0,0]]
];

// ---------- drawing ----------
const svg = d3.select("#chart");
const GREY = "#BEBEBE";
const panels = [
  {left:56, right:562, title:titles[0], curves:starsQF, extra:quasarCurve,
   legend:[{t:"stars",c:GREY},{t:"quasars",c:"#FF0000"}], legendBox:[506,39,561,73]},
  {left:632, right:1137, title:titles[1], curves:starsSF, extra:null,
   legend:[{t:"stars",c:"#222"}], legendBox:[1094,39,1140,62]}
];
const plotTop = 39, plotBottom = 509.5;
const xDomain = [-2.16, 2.16], yDomain = [-0.048, 1.248];

panels.forEach((p, i) => {
  const g = svg.append("g");
  const x = d3.scaleLinear().domain(xDomain).range([p.left, p.right]);
  const y = d3.scaleLinear().domain(yDomain).range([plotBottom, plotTop]);
  const clipId = "clip" + i;
  svg.append("clipPath").attr("id", clipId).append("rect")
    .attr("x", p.left).attr("y", plotTop).attr("width", p.right - p.left).attr("height", plotBottom - plotTop);

  // grid
  const grid = g.append("g").attr("clip-path", `url(#${clipId})`);
  grid.selectAll("line.v").data(xTicks).enter().append("line")
    .attr("x1", d => x(d)).attr("x2", d => x(d)).attr("y1", plotTop).attr("y2", plotBottom)
    .attr("stroke", "#C8C8C8").attr("stroke-width", 1).attr("stroke-dasharray", "1,6");
  grid.selectAll("line.h").data(yTicks.filter(d => d > 0)).enter().append("line")
    .attr("x1", p.left).attr("x2", p.right).attr("y1", d => y(d)).attr("y2", d => y(d))
    .attr("stroke", "#C8C8C8").attr("stroke-width", 1).attr("stroke-dasharray", "1,3");

  const line = d3.line().x(d => x(d[0])).y(d => y(d[1])).curve(d3.curveMonotoneX);
  const plot = g.append("g").attr("clip-path", `url(#${clipId})`);
  plot.selectAll("path.star").data(p.curves).enter().append("path")
    .attr("d", line).attr("fill", "none").attr("stroke", GREY).attr("stroke-width", 1);
  if (p.extra) {
    plot.append("path").datum(p.extra).attr("d", line).attr("fill", "none")
      .attr("stroke", "#FF0000").attr("stroke-width", 1.5);
  }
  // zero line
  plot.append("line").attr("x1", p.left).attr("x2", p.right).attr("y1", y(0)).attr("y2", y(0))
    .attr("stroke", "#606060").attr("stroke-width", 2.2);

  // legend
  const [lx0, ly0, lx1, ly1] = p.legendBox;
  g.append("rect").attr("x", lx0 + 0.5).attr("y", ly0 + 0.5).attr("width", lx1 - lx0).attr("height", ly1 - ly0)
    .attr("fill", "white").attr("stroke", "black").attr("stroke-width", 1);
  p.legend.forEach((e, k) => {
    g.append("text").attr("x", lx0 + 16).attr("y", ly0 + 15 + k * 12).text(e.t)
      .attr("fill", e.c).attr("font-size", 9.5);
  });

  // box
  g.append("rect").attr("x", p.left + 0.5).attr("y", plotTop + 0.5).attr("width", p.right - p.left).attr("height", plotBottom - plotTop)
    .attr("fill", "none").attr("stroke", "black").attr("stroke-width", 1);

  // x axis
  const xa = g.append("g").attr("transform", `translate(0,${plotBottom + 0.5})`)
    .call(d3.axisBottom(x).tickValues(xTicks).tickFormat((d, k) => xTickLabels[k]).tickSize(5).tickSizeOuter(0).tickPadding(7));
  xa.select(".domain").remove();
  xa.selectAll("line").attr("stroke", "black");
  xa.selectAll("text").attr("font-size", 9.5).attr("fill", "#111").attr("font-family", "Liberation Sans, Arial, sans-serif");

  // y axis
  const ya = g.append("g").attr("transform", `translate(${p.left + 0.5},0)`)
    .call(d3.axisLeft(y).tickValues(yTicks).tickFormat((d, k) => yTickLabels[k]).tickSize(5).tickSizeOuter(0));
  ya.select(".domain").remove();
  ya.selectAll("line").attr("stroke", "black");
  ya.selectAll("text").attr("transform", "rotate(-90)").attr("x", 0).attr("y", -12.5).attr("dy", 0)
    .attr("text-anchor", "middle").attr("font-size", 9.5).attr("fill", "#111")
    .attr("font-family", "Liberation Sans, Arial, sans-serif");

  // titles
  const cx = (x(-2.16) + x(2.16)) / 2;
  g.append("text").attr("x", cx).attr("y", 24).attr("text-anchor", "middle")
    .attr("font-size", 17).attr("font-weight", "bold").text(p.title);
  g.append("text").attr("x", cx).attr("y", 553).attr("text-anchor", "middle")
    .attr("font-size", 14).text(xTitle);
  g.append("text").attr("transform", `translate(${p.left - 39},${(plotTop + plotBottom) / 2}) rotate(-90)`)
    .attr("text-anchor", "middle").attr("font-size", 14).text(yTitle);
});
</script></body></html>
